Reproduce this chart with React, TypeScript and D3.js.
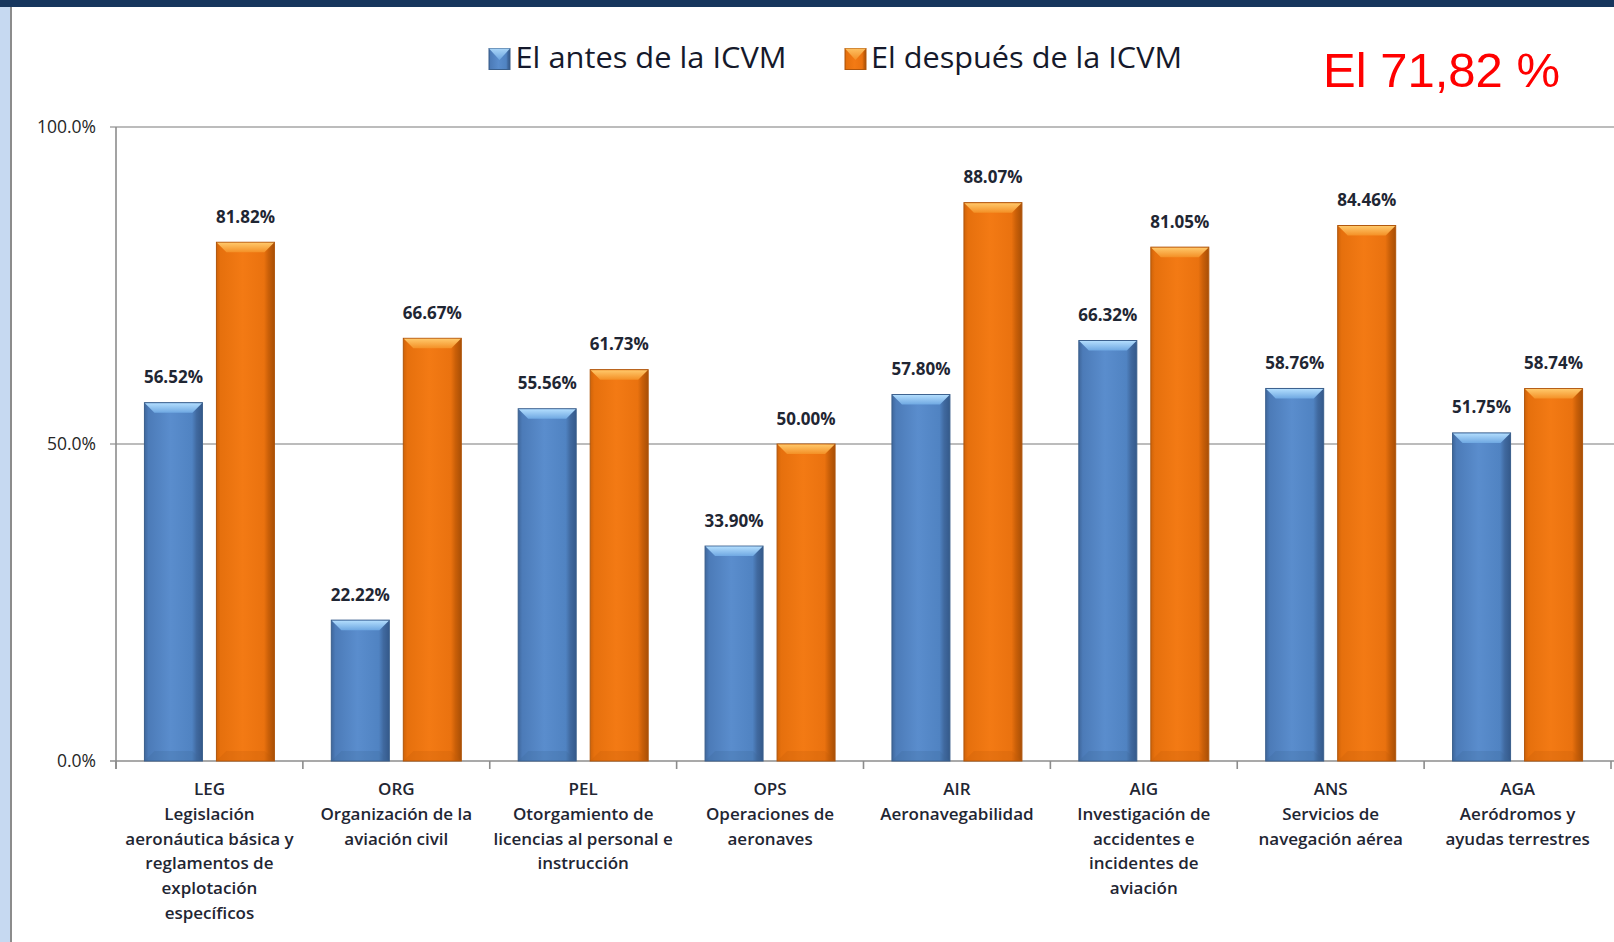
import React from "react";
import * as d3 from "d3";

const categories = ["LEG", "ORG", "PEL", "OPS", "AIR", "AIG", "ANS", "AGA"];
const categoryLines: string[][] = [
  ["LEG", "Legislación", "aeronáutica básica y", "reglamentos de", "explotación", "específicos"],
  ["ORG", "Organización de la", "aviación civil"],
  ["PEL", "Otorgamiento de", "licencias al personal e", "instrucción"],
  ["OPS", "Operaciones de", "aeronaves"],
  ["AIR", "Aeronavegabilidad"],
  ["AIG", "Investigación de", "accidentes e", "incidentes de", "aviación"],
  ["ANS", "Servicios de", "navegación aérea"],
  ["AGA", "Aeródromos y", "ayudas terrestres"],
];
const seriesNames = ["El antes de la ICVM", "El después de la ICVM"];
const before = [56.52, 22.22, 55.56, 33.9, 57.8, 66.32, 58.76, 51.75];
const after = [81.82, 66.67, 61.73, 50.0, 88.07, 81.05, 84.46, 58.74];
const yTicks = [0, 50, 100];
const headline = "El 71,82 %";

const W = 1614;
const H = 942;
const plot = { left: 116, right: 1611, top: 127, bottom: 761 };

const palettes = [
  {
    body: [
      [0, "#3f679c"],
      [0.07, "#4c7bb8"],
      [0.45, "#5a8dcd"],
      [0.82, "#5083c2"],
      [0.9, "#40699f"],
      [1, "#34598a"],
    ],
    bevel: ["#b2ddfd", "#6fa8e2"],
    bottom: "#3d6699",
    stroke: "#3a5f8c",
  },
  {
    body: [
      [0, "#cf6309"],
      [0.07, "#e6700d"],
      [0.45, "#f37a14"],
      [0.82, "#ea720f"],
      [0.9, "#c95f08"],
      [1, "#a84f06"],
    ],
    bevel: ["#ffc86a", "#f49026"],
    bottom: "#c25c08",
    stroke: "#b0560c",
  },
];

export default function App() {
  const x0 = d3.scaleBand<string>().domain(categories).range([plot.left, plot.right]).paddingInner(0).paddingOuter(0);
  const bw = x0.bandwidth();
  const x1 = d3
    .scaleBand<string>()
    .domain(seriesNames)
    .range([bw / 2 - 65, bw / 2 + 65])
    .paddingInner(14 / 72)
    .paddingOuter(0);
  const y = d3.scaleLinear().domain([0, 100]).range([plot.bottom, plot.top]);
  const fmtAxis = d3.format(".1f");
  const fmtVal = d3.format(".2f");

  const bars: { key: string; s: number; x: number; y: number; w: number; h: number; v: number }[] = [];
  categories.forEach((c, i) => {
    [before[i], after[i]].forEach((v, s) => {
      const bx = (x0(c) ?? 0) + (x1(seriesNames[s]) ?? 0);
      const by = y(v);
      bars.push({ key: c + s, s, x: bx, y: by, w: x1.bandwidth(), h: y(0) - by, v });
    });
  });

  const bev = 10;
  const boundaries = d3.range(categories.length + 1).map((i) => plot.left + i * bw);

  const legendItems = [
    { sx: 489, tx: 515.5, len: 271 },
    { sx: 845, tx: 871, len: 311 },
  ];

  return (
    <svg
      width={W}
      height={H}
      style={{ position: "fixed", left: 0, top: 0, background: "#fff" }}
      fontFamily="'Open Sans', sans-serif"
    >
      <defs>
        {palettes.map((p, i) => (
          <React.Fragment key={i}>
            <linearGradient id={`body${i}`} x1="0" x2="1" y1="0" y2="0">
              {p.body.map(([o, c], k) => (
                <stop key={k} offset={o as number} stopColor={c as string} />
              ))}
            </linearGradient>
            <linearGradient id={`bevel${i}`} x1="0" x2="0" y1="0" y2="1">
              <stop offset="0" stopColor={p.bevel[0]} />
              <stop offset="1" stopColor={p.bevel[1]} />
            </linearGradient>
          </React.Fragment>
        ))}
      </defs>
      <rect x={0} y={0} width={W} height={H} fill="#fff" />
      {/* frame */}
      <rect x={0} y={0} width={W} height={7} fill="#17365d" />
      <rect x={0} y={7} width={10} height={H - 7} fill="#c6d9f1" />
      <rect x={10} y={7} width={2} height={H - 7} fill="#8c8c8c" />

      {/* gridlines */}
      {yTicks.map((t) => (
        <line
          key={t}
          x1={plot.left - 6}
          x2={W}
          y1={y(t)}
          y2={y(t)}
          stroke={t === 0 ? "#8c8c8c" : "#a6a6a6"}
          strokeWidth={1.6}
        />
      ))}
      {/* y axis */}
      <line x1={plot.left} x2={plot.left} y1={plot.top} y2={plot.bottom + 8} stroke="#8c8c8c" strokeWidth={1.6} />
      {yTicks.map((t) => (
        <text
          key={t}
          x={96}
          y={y(t)}
          dy="0.36em"
          textAnchor="end"
          fontSize={17.5}
          fontWeight={500}
          fill="#262626"
        >
          {fmtAxis(t)}%
        </text>
      ))}
      {/* x ticks */}
      {boundaries.map((b, i) => (
        <line key={i} x1={b} x2={b} y1={plot.bottom} y2={plot.bottom + 8} stroke="#8c8c8c" strokeWidth={1.6} />
      ))}

      {/* bars */}
      {bars.map((b) => {
        const p = palettes[b.s];
        return (
          <g key={b.key}>
            <rect x={b.x} y={b.y} width={b.w} height={b.h} fill={`url(#body${b.s})`} stroke={p.stroke} strokeWidth={1} />
            <polygon
              points={`${b.x + 0.5},${b.y + 0.5} ${b.x + b.w - 0.5},${b.y + 0.5} ${b.x + b.w - bev},${b.y + bev} ${b.x + bev},${b.y + bev}`}
              fill={`url(#bevel${b.s})`}
            />
            <polygon
              points={`${b.x + 0.5},${b.y + b.h - 0.5} ${b.x + b.w - 0.5},${b.y + b.h - 0.5} ${b.x + b.w - bev},${b.y + b.h - bev} ${b.x + bev},${b.y + b.h - bev}`}
              fill={p.bottom}
              opacity={0.25}
            />
            <text
              x={b.x + b.w / 2}
              y={b.y - 19.5}
              textAnchor="middle"
              fontSize={17}
              fontWeight={700}
              fill="#1f2633"
            >
              {fmtVal(b.v)}%
            </text>
          </g>
        );
      })}

      {/* category labels */}
      {categories.map((c, i) => (
        <text
          key={c}
          x={(x0(c) ?? 0) + bw / 2}
          y={795}
          textAnchor="middle"
          fontSize={17}
          fontWeight={600}
          fill="#1f2633"
        >
          {categoryLines[i].map((l, k) => (
            <tspan key={k} x={(x0(c) ?? 0) + bw / 2} dy={k === 0 ? 0 : 24.8}>
              {l}
            </tspan>
          ))}
        </text>
      ))}

      {/* legend */}
      {legendItems.map((li, i) => {
        const p = palettes[i];
        return (
          <g key={i}>
            <rect x={li.sx} y={48.5} width={21} height={21} fill={`url(#body${i})`} stroke={p.stroke} strokeWidth={1} />
            <polygon
              points={`${li.sx},${48.5} ${li.sx + 21},${48.5} ${li.sx + 10.5},${60}`}
              fill={`url(#bevel${i})`}
              opacity={0.9}
            />
            <text
              x={li.tx}
              y={68.3}
              fontSize={29.5}
              fill="#15192b"
              textLength={li.len}
              lengthAdjust="spacingAndGlyphs"
            >
              {seriesNames[i]}
            </text>
          </g>
        );
      })}

      {/* headline */}
      <text x={1323} y={86.7} fontSize={49} fill="#ff0000" fontFamily="'Liberation Sans', Arial, sans-serif">
        {headline}
      </text>
    </svg>
  );
}
